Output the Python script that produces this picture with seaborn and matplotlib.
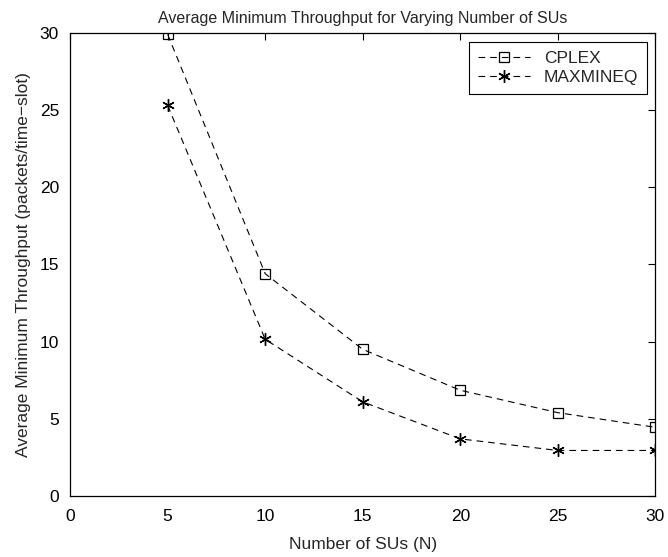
import numpy as np
import pandas as pd
import seaborn as sns
import matplotlib.pyplot as plt

# values
num_sus = [5, 10, 15, 20, 25, 30]
cplex = [29.9, 14.4, 9.5, 6.85, 5.4, 4.45]
maxmineq = [25.3, 10.15, 6.1, 3.7, 2.95, 2.95]

sns.set_theme(style = "white")
plt.rcParams["font.family"] = ["Liberation Sans", "DejaVu Sans"]
plt.rcParams["font.size"] = 12

fig = plt.figure(figsize = (6.68, 5.57), dpi = 100)
ax = fig.add_axes([0.105, 0.1095, 0.876, 0.8315])

sns.lineplot(x = num_sus, y = cplex, ax = ax, color = "black", linestyle = (0, (6, 4.5)),
             linewidth = 0.8, marker = "s", markersize = 7, markerfacecolor = "none",
             markeredgecolor = "black", markeredgewidth = 0.9, label = "CPLEX")
sns.lineplot(x = num_sus, y = maxmineq, ax = ax, color = "black", linestyle = (0, (6, 4.5)),
             linewidth = 0.8, marker = (6, 2, 0), markersize = 9, markeredgecolor = "black",
             markeredgewidth = 1.0, label = "MAXMINEQ")

ax.set_xlim(0, 30)
ax.set_ylim(0, 30)
ax.set_xticks(range(0, 31, 5))
ax.set_yticks(range(0, 31, 5))
ax.tick_params(direction = "in", length = 5, width = 0.8, top = True, right = True,
               labelsize = 12.5, colors = "black")
ax.tick_params(axis = "x", pad = 9)
ax.tick_params(axis = "y", pad = 8)
for s in ax.spines.values():
    s.set_color("black")
    s.set_linewidth(0.9)

ax.set_title("Average Minimum Throughput for Varying Number of SUs", fontsize = 11.5, pad = 7)
ax.set_xlabel("Number of SUs (N)", fontsize = 12.5, labelpad = 10)
ax.set_ylabel("Average Minimum Throughput (packets/time\u2212slot)", fontsize = 12.5, labelpad = 6)

leg = ax.legend(loc = "upper right", fontsize = 12.5, fancybox = False, framealpha = 1,
                edgecolor = "black", handlelength = 3, borderpad = 0.5, labelspacing = 0.25,
                borderaxespad = 0, bbox_to_anchor = (0.986, 0.98))
leg.get_frame().set_linewidth(0.8)

fig.savefig("out.png", dpi = 100)
